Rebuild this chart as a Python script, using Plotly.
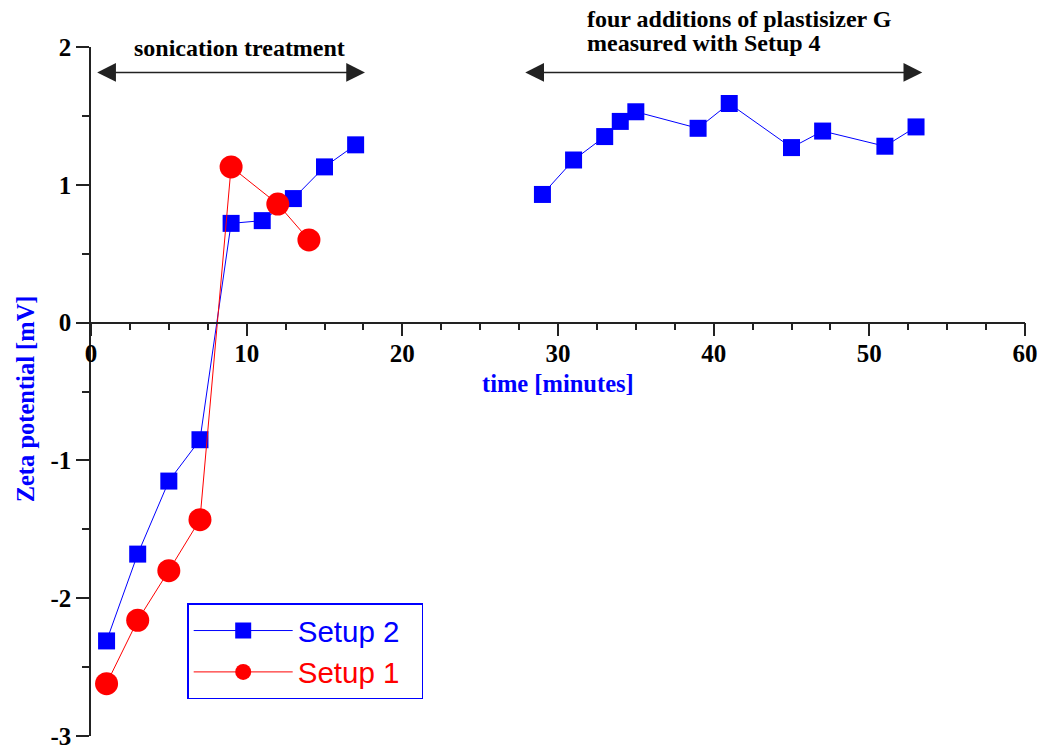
import plotly.graph_objects as go

# ---- data ----
setup2_time = [1, 3, 5, 7, 9, 11, 13, 15, 17, None, 29, 31, 33, 34, 35, 39, 41, 45, 47, 51, 53]
setup2_zeta = [-2.31, -1.68, -1.15, -0.85, 0.72, 0.74, 0.90, 1.13, 1.29, None,
               0.93, 1.18, 1.35, 1.46, 1.53, 1.41, 1.59, 1.27, 1.39, 1.28, 1.42]
setup1_time = [1, 3, 5, 7, 9, 12, 14]
setup1_zeta = [-2.62, -2.16, -1.80, -1.43, 1.13, 0.86, 0.60]

x_tickvals = [0, 10, 20, 30, 40, 50, 60]
x_ticktext = ["0", "10", "20", "30", "40", "50", "60"]
y_tickvals = [-3, -2, -1, 0, 1, 2]
y_ticktext = ["-3", "-2", "-1", "0", "1", "2"]

SERIF = "Liberation Serif"
SANS = "Liberation Sans"
AXC = "#222222"

fig = go.Figure()
fig.add_trace(go.Scatter(
    x=setup2_time, y=setup2_zeta, mode="lines+markers",
    name="<span style='color:#0000ff'>Setup 2</span>&nbsp;&nbsp;",
    line=dict(color="#0000ff", width=1),
    marker=dict(symbol="square", size=17, color="#0000ff", line=dict(width=0)),
    connectgaps=False,
))
fig.add_trace(go.Scatter(
    x=setup1_time, y=setup1_zeta, mode="lines+markers",
    name="<span style='color:#ff0000'>Setup 1</span>&nbsp;&nbsp;",
    line=dict(color="#ff0000", width=1),
    marker=dict(symbol="circle", size=23, color="#ff0000", line=dict(width=0)),
))

tick_font = dict(family=SERIF, size=25, color="black", weight="bold")

fig.update_layout(
    width=1049, height=752, autosize=False,
    margin=dict(l=91, r=24, t=47, b=16, pad=0, autoexpand=False),
    paper_bgcolor="white", plot_bgcolor="white",
    showlegend=True,
    legend=dict(
        x=0.103, y=0.1925, xanchor="left", yanchor="top",
        bordercolor="#0000ff", borderwidth=1.5, bgcolor="white",
        font=dict(family=SANS, size=29.5, color="#0000ff"),
        itemwidth=99, tracegroupgap=0,
    ),
    xaxis=dict(
        range=[0, 60], anchor="free", position=0.6, automargin=False,
        showgrid=False, zeroline=False,
        showline=True, linecolor=AXC, linewidth=1.5,
        tickmode="array", tickvals=x_tickvals,
        ticktext=["<b>%s</b>" % t for t in x_ticktext],
        ticks="outside", ticklen=13, tickwidth=1.5, tickcolor=AXC,
        tickfont=tick_font, ticklabelstandoff=-4,
        minor=dict(dtick=2.5, ticks="outside", ticklen=7, tickwidth=1.5, tickcolor=AXC),
    ),
    yaxis=dict(
        range=[-3, 2], domain=[0, 1], automargin=False,
        showgrid=False, zeroline=False,
        showline=True, linecolor=AXC, linewidth=1.5,
        tickmode="array", tickvals=y_tickvals,
        ticktext=["<b>%s</b>" % t for t in y_ticktext],
        ticks="outside", ticklen=13, tickwidth=1.5, tickcolor=AXC,
        tickfont=tick_font,
        minor=dict(dtick=0.5, ticks="outside", ticklen=7, tickwidth=1.5, tickcolor=AXC),
    ),
)

txt_font = dict(family=SERIF, size=24, color="black")
blue_font = dict(family=SERIF, size=24.5, color="#0000ff")

# double-headed arrows
for x0, x1 in [(0.3, 17.6), (27.8, 53.4)]:
    fig.add_annotation(
        x=x1, y=1.815, ax=x0, ay=1.815, xref="x", yref="y", axref="x", ayref="y",
        text="", showarrow=True, arrowhead=2, startarrowhead=2, arrowside="end+start",
        arrowsize=2.5, startarrowsize=2.5, arrowwidth=1.5, arrowcolor=AXC,
    )

fig.add_annotation(x=9.57, y=0.9985, xref="x", yref="paper", text="<b>sonication treatment</b>",
                   showarrow=False, font=txt_font, xanchor="center", yanchor="middle")
fig.add_annotation(x=31.73, y=1.0405, xref="x", yref="paper", text="<b>four additions of plastisizer G</b>",
                   showarrow=False, font=txt_font, xanchor="left", yanchor="middle")
fig.add_annotation(x=31.73, y=1.0065, xref="x", yref="paper", text="<b>measured with Setup 4</b>",
                   showarrow=False, font=txt_font, xanchor="left", yanchor="middle")

# axis titles
fig.add_annotation(x=30, y=-0.445, xref="x", yref="y", text="<b>time [minutes]</b>",
                   showarrow=False, font=blue_font, xanchor="center", yanchor="middle")
fig.add_annotation(x=-0.0707, y=-0.55, xref="paper", yref="y", text="<b>Zeta potential [mV]</b>",
                   showarrow=False, font=blue_font, textangle=-90,
                   xanchor="center", yanchor="middle")

fig.write_html("out.html")
